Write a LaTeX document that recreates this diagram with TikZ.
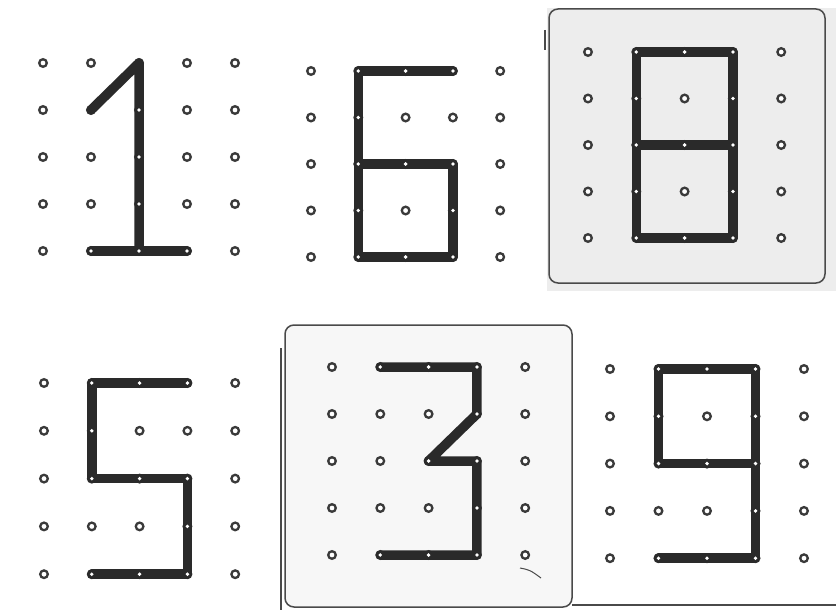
\documentclass[tikz,border=0pt]{standalone}
\usepackage{tikz}
\definecolor{bandcol}{HTML}{2A2A2A}
\definecolor{pegcol}{HTML}{3A3A3A}
\definecolor{framecol}{HTML}{4A4A4A}
\definecolor{panelgrey}{HTML}{EDEDED}
\definecolor{panellight}{HTML}{F7F7F7}
\tikzset{
  peg/.style={circle, draw=pegcol, line width=2.3pt, fill=white, inner sep=0pt, minimum size=7.6pt},
  band/.style={draw=bandcol, line width=9.5pt, line cap=round, line join=round},
  hole/.style={fill=white},
  frame/.style={draw=framecol, line width=1.5pt, rounded corners=9pt}
}
\newcommand{\geoboard}[5]{%
  \foreach \c in {0,...,4}{%
    \foreach \r in {0,...,4}{%
      \node[peg] (#1-\c-\r) at ({#2+\c*#4},{-(#3+\r*#5)}) {};
    }%
  }%
}
\newcommand{\holes}[2]{%
  \foreach \p in {#2}{\fill[hole] (#1-\p.center) circle (1.9pt);}%
}
\begin{document}
\begin{tikzpicture}[x=1pt,y=1pt]
\useasboundingbox (0,0) rectangle (836,-610);
\fill[white] (0,0) rectangle (836,-610);
% panel backgrounds and frames
\fill[panelgrey] (547,-8) rectangle (836,-291);
\draw[frame] (549,-9) rectangle (825,-283);
\fill[panellight, rounded corners=9pt] (285,-325) rectangle (572,-607);
\draw[frame] (285,-325) rectangle (572,-607);
\draw[framecol, line width=1.5pt] (281,-348) -- (281,-610);
\draw[framecol, line width=1.5pt] (572,-605) -- (836,-605);
\draw[framecol, line width=1.3pt] (545,-30) -- (545,-50);
\draw[framecol, line width=1pt] (520,-568) .. controls (530,-570) .. (541,-578);
% boards
\geoboard{A}{43}{63}{48}{47}
\geoboard{B}{311}{71}{47.3}{46.5}
\geoboard{C}{588}{52}{48.3}{46.5}
\geoboard{D}{44}{383}{47.8}{47.8}
\geoboard{E}{332}{367}{48.3}{47}
\geoboard{F}{610}{369}{48.5}{47.3}
% 1
\draw[band] (A-1-1.center) -- (A-2-0.center) -- (A-2-4.center);
\draw[band] (A-1-4.center) -- (A-3-4.center);
\holes{A}{2-1,2-2,2-3,2-4,1-4,3-4}
% 6
\draw[band] (B-3-0.center) -- (B-1-0.center) -- (B-1-4.center) -- (B-3-4.center) -- (B-3-2.center) -- (B-1-2.center);
\holes{B}{1-0,2-0,3-0,1-1,1-2,2-2,3-2,1-3,3-3,1-4,2-4,3-4}
% 8
\draw[band] (C-1-0.center) -- (C-3-0.center) -- (C-3-4.center) -- (C-1-4.center) -- cycle;
\draw[band] (C-1-2.center) -- (C-3-2.center);
\holes{C}{1-0,2-0,3-0,1-1,3-1,1-2,2-2,3-2,1-3,3-3,1-4,2-4,3-4}
% 5
\draw[band] (D-3-0.center) -- (D-1-0.center) -- (D-1-2.center) -- (D-3-2.center) -- (D-3-4.center) -- (D-1-4.center);
\holes{D}{1-0,2-0,3-0,1-1,1-2,2-2,3-2,3-3,1-4,2-4,3-4}
% 3
\draw[band] (E-1-0.center) -- (E-3-0.center) -- (E-3-1.center) -- (E-2-2.center) -- (E-3-2.center) -- (E-3-4.center) -- (E-1-4.center);
\holes{E}{1-0,2-0,3-0,3-1,2-2,3-2,3-3,1-4,2-4,3-4}
% 9
\draw[band] (F-3-2.center) -- (F-1-2.center) -- (F-1-0.center) -- (F-3-0.center) -- (F-3-4.center) -- (F-1-4.center);
\holes{F}{1-0,2-0,3-0,1-1,3-1,1-2,2-2,3-2,3-3,1-4,2-4,3-4}
\end{tikzpicture}
\end{document}
